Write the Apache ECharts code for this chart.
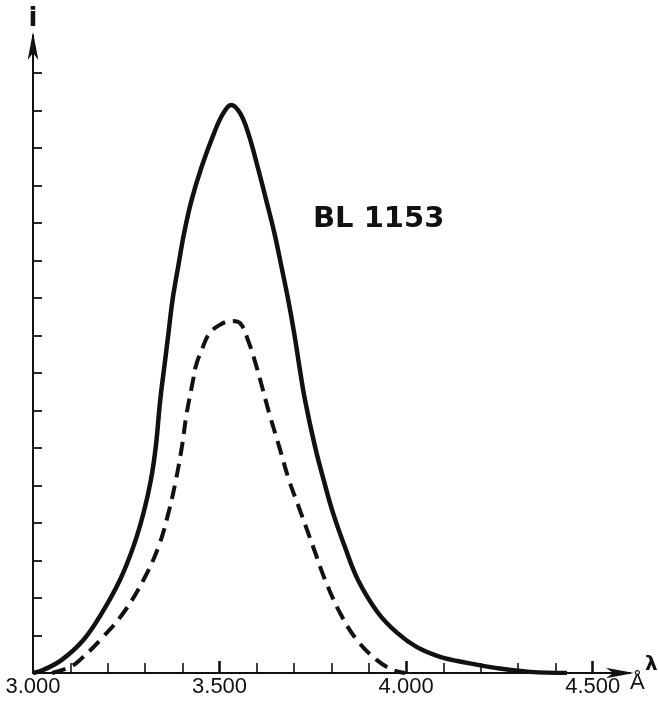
<!DOCTYPE html>
<html>
<head>
<meta charset="utf-8">
<script src="https://cdn.jsdelivr.net/npm/echarts@6/dist/echarts.min.js"></script>
<style>html,body{margin:0;padding:0;background:#fff;}#c{width:658px;height:702px;}</style>
</head>
<body>
<div id="c"></div>
<script>
// Data (wavelength in Å, relative intensity i)
const solidLambda = [3000,3027,3077,3135,3184,3233,3269,3296,3316,3329,3341,3352,3363,3374,3389,3405,3425,3452,3485,3510,3531,3555,3577,3602,3625,3647,3666,3684,3700,3714,3729,3756,3779,3804,3836,3871,3925,3976,4029,4091,4163,4244,4332,4431];
const solidI      = [0,0.08,0.35,0.88,1.59,2.48,3.37,4.26,5.15,6.03,7.28,8.17,9.06,9.95,10.83,11.73,12.61,13.5,14.39,14.93,15.15,14.93,14.39,13.5,12.61,11.73,10.83,9.95,9.06,8.17,7.28,6.03,5.15,4.27,3.36,2.48,1.6,1.07,0.69,0.43,0.27,0.13,0.03,0];
const dashedLambda = [3051,3099,3126,3180,3242,3296,3336,3363,3383,3399,3412,3429,3436,3452,3474,3509,3533,3555,3576,3599,3633,3660,3686,3718,3751,3783,3823,3868,3921,3965,3997];
const dashedI      = [0,0.16,0.35,0.88,1.6,2.48,3.36,4.27,5.15,6.03,6.93,7.81,8.17,8.61,9.07,9.33,9.39,9.33,8.88,8.17,6.93,6.03,5.15,4.27,3.36,2.48,1.6,0.88,0.35,0.08,0];
const xMinorTicks = [3100,3200,3300,3400,3600,3700,3800,3900,4100,4200,4300,4400];
const xMajorTicks = [3500,4000,4500];
const xTickLabels = [3000,3500,4000,4500];
const yTicks = [1,2,3,4,5,6,7,8,9,10,11,12,13,14,15,16];
const chartTitle = 'BL 1153';

const zip = (a,b) => a.map((v,i)=>[v,b[i]]);
const fmt = v => (v/1000).toFixed(3);

const chart = echarts.init(document.getElementById('c'));
chart.setOption({
  backgroundColor: '#fff',
  animation: false,
  grid: {left: 33, right: 28, top: 35.5, bottom: 29, containLabel: false},
  xAxis: [{
    type: 'value', min: 3000, max: 4600, interval: 100,
    splitLine: {show: false},
    axisLine: {lineStyle: {color: '#111', width: 2}, symbol: ['none','arrow'], symbolSize: [8, 28], symbolOffset: [0, 4]},
    axisTick: {inside: true, length: 10, lineStyle: {color: '#111', width: 1.6}, customValues: xMinorTicks},
    axisLabel: {customValues: xTickLabels, formatter: fmt, color: '#111', margin: 3,
      fontFamily: "'Liberation Sans',sans-serif", fontSize: 22}
  }, {
    type: 'value', min: 3000, max: 4600, interval: 100, position: 'bottom',
    splitLine: {show: false},
    axisLine: {show: false},
    axisTick: {inside: true, length: 12, lineStyle: {color: '#111', width: 2.6}, customValues: xMajorTicks},
    axisLabel: {show: false}
  }],
  yAxis: {
    type: 'value', min: 0, max: 17, interval: 1,
    splitLine: {show: false},
    name: 'i', nameLocation: 'end', nameGap: 3,
    nameTextStyle: {color: '#111', fontSize: 26, fontFamily: 'DejaVu Sans', fontWeight: 'bold'},
    axisLine: {lineStyle: {color: '#111', width: 2}, symbol: ['none','arrow'], symbolSize: [8, 28], symbolOffset: [0, 3.5]},
    axisTick: {inside: true, length: 9, lineStyle: {color: '#111', width: 1.8}, customValues: yTicks},
    axisLabel: {show: false}
  },
  graphic: [
    {type: 'text', left: 313, top: 205, style: {text: chartTitle, fill: '#111', font: "bold 29px 'DejaVu Sans'"}},
    {type: 'text', left: 630, top: 672, style: {text: 'Å', fill: '#111', font: "22px 'Liberation Sans'"}},
    {type: 'text', left: 645, top: 655, style: {text: 'λ', fill: '#111', font: "bold 20px 'DejaVu Sans'"}}
  ],
  series: [{
    type: 'line', data: zip(solidLambda, solidI), smooth: 0.4,
    showSymbol: false, lineStyle: {color: '#111', width: 4.5}
  }, {
    type: 'line', data: zip(dashedLambda, dashedI), smooth: 0.4,
    showSymbol: false, lineStyle: {color: '#111', width: 4, type: [14, 8], cap: 'butt'}
  }]
});
</script>
</body>
</html>
